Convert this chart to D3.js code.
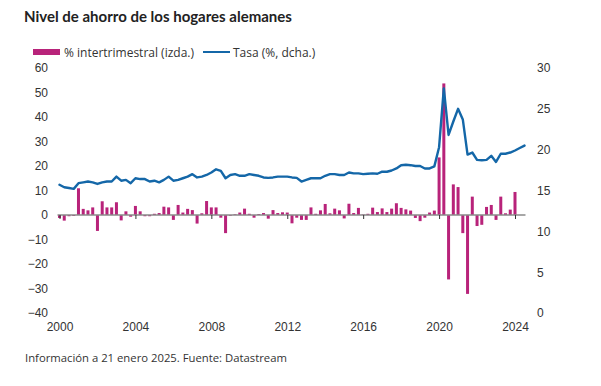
<!DOCTYPE html>
<html>
<head>
<meta charset="utf-8">
<script src="https://cdn.jsdelivr.net/npm/d3@7"></script>
<style>
  html, body { margin: 0; padding: 0; background: #fff; }
  svg { display: block; font-family: "Open Sans", "Noto Sans", sans-serif; }
</style>
</head>
<body>
<svg id="chart" width="601" height="386"></svg>
<script>
// ---- Data (quarterly, starting 2000 Q1) ----
const startYear = 2000;
const barValues = [
  -1.2, -2.3, -0.5, -0.4, 10.9, 2.5, 1.9, 3.1, -6.5, 5.6,
  3.1, 3.1, 5.2, -2.2, 1.5, -0.7, 3.7, 1.5, -0.5, -0.5,
  0.5, 0.8, 3.4, 3.1, -2.0, 4.1, 1.0, 2.5, 2.0, -3.5,
  0.7, 5.7, 3.1, 3.1, -1.1, -7.4, -0.3, 0.3, 1.0, 2.6,
  0.5, -1.1, 0.4, 0.8, -1.5, 2.0, 0.8, 1.1, 1.0, -3.4,
  -1.1, -2.0, -2.0, 3.1, 0.5, 1.9, 4.5, 0.7, 2.6, 1.9,
  -1.4, 4.6, 0.8, 2.9, 0.2, 0.5, 3.0, 1.2, 2.7, 1.2,
  2.6, 4.8, 2.9, 2.3, 1.8, -1.2, -2.5, -1.1, 1.0, 1.8,
  23.5, 53.7, -26.3, 12.5, 11.4, -7.4, -32.2, 7.5, -4.5, -4.0,
  3.3, 4.1, -2.0, 7.5, 0.7, 2.2, 9.4
];
const rateValues = [
  15.7, 15.4, 15.3, 15.2, 15.9, 16.0, 16.1, 16.0, 15.8, 16.0,
  16.1, 16.1, 16.7, 16.2, 16.3, 15.9, 16.5, 16.4, 16.4, 16.1,
  16.2, 16.0, 16.3, 16.7, 16.2, 16.3, 16.5, 16.7, 17.0, 16.6,
  16.7, 16.9, 17.2, 17.6, 17.4, 16.5, 16.9, 17.0, 16.8, 16.8,
  17.0, 16.9, 16.8, 16.6, 16.55, 16.6, 16.7, 16.7, 16.7, 16.6,
  16.55, 16.1, 16.3, 16.5, 16.5, 16.5, 16.8, 17.0, 17.0, 16.9,
  16.9, 17.2, 17.1, 17.1, 17.0, 17.05, 17.1, 17.05, 17.3, 17.3,
  17.45, 17.7, 18.1, 18.15, 18.1, 18.0, 18.0, 17.7, 17.7, 17.95,
  20.3, 27.5, 21.8, 23.45, 25.0, 23.7, 19.4, 19.65, 18.75, 18.7,
  18.75, 19.25, 18.5, 19.5, 19.5, 19.65, 19.9, 20.2, 20.5
];
const leftTicks = [60, 50, 40, 30, 20, 10, 0, -10, -20, -30, -40];
const rightTicks = [30, 25, 20, 15, 10, 5, 0];
const yearTicks = [2000, 2004, 2008, 2012, 2016, 2020, 2024];

const title = "Nivel de ahorro de los hogares alemanes";
const legendBars = "% intertrimestral (izda.)";
const legendLine = "Tasa (%, dcha.)";
const footer = "Información a 21 enero 2025. Fuente: Datastream";

const barColor = "#b8237a";
const lineColor = "#1467a8";
const textColor = "#333333";

const bars = barValues.map((v, i) => ({ t: startYear + i / 4, v }));
const rate = rateValues.map((v, i) => ({ t: startYear + i / 4, v }));

// ---- Scales ----
const x = d3.scaleLinear().domain([2000, 2024]).range([59.5, 515]);
const yL = d3.scaleLinear().domain([-40, 60]).range([313, 68]);
const yR = d3.scaleLinear().domain([0, 30]).range([313, 68]);

const svg = d3.select("#chart");

// Title
svg.append("text").attr("x", 24).attr("y", 22)
  .attr("font-size", 15).attr("font-weight", 700).attr("fill", "#222")
  .attr("font-family", "Lato, 'Open Sans', sans-serif")
  .text(title);

// Legend
svg.append("rect").attr("x", 33).attr("y", 49).attr("width", 27).attr("height", 6).attr("fill", barColor);
svg.append("text").attr("x", 64).attr("y", 56.5).attr("font-size", 12).attr("fill", textColor).text(legendBars);
svg.append("line").attr("x1", 203).attr("x2", 230).attr("y1", 52).attr("y2", 52)
  .attr("stroke", lineColor).attr("stroke-width", 2);
svg.append("text").attr("x", 233).attr("y", 56.5).attr("font-size", 12).attr("fill", textColor).text(legendLine);

// Left axis
const gL = svg.append("g").attr("transform", "translate(48,0)")
  .call(d3.axisLeft(yL).tickValues(leftTicks).tickSize(0).tickPadding(0));
gL.select(".domain").remove();
gL.selectAll("text").attr("font-size", 12).attr("fill", textColor).attr("font-family", null);

// Right axis
const gR = svg.append("g").attr("transform", "translate(537,0)")
  .call(d3.axisRight(yR).tickValues(rightTicks).tickSize(0).tickPadding(0));
gR.select(".domain").remove();
gR.selectAll("text").attr("font-size", 12).attr("fill", textColor).attr("font-family", null);

// Bars
const bw = 3;
svg.append("g").selectAll("rect").data(bars).join("rect")
  .attr("x", d => x(d.t) - bw / 2)
  .attr("width", bw)
  .attr("y", d => yL(Math.max(0, d.v)))
  .attr("height", d => Math.abs(yL(d.v) - yL(0)))
  .attr("fill", barColor);

// Zero line
svg.append("line")
  .attr("x1", x(rate[0].t) - 2).attr("x2", x(rate[rate.length - 1].t) + 1)
  .attr("y1", yL(0)).attr("y2", yL(0))
  .attr("stroke", "#8a8a8a").attr("stroke-width", 1.5);

// Tick marks on zero line
const gT = svg.append("g").attr("transform", `translate(0,${yL(0)})`)
  .call(d3.axisBottom(x).tickValues(yearTicks).tickSize(4).tickFormat(""));
gT.select(".domain").remove();
gT.selectAll("line").attr("stroke", "#333");

// Year labels
const gX = svg.append("g").attr("transform", "translate(0,322)")
  .call(d3.axisBottom(x).tickValues(yearTicks).tickSize(0).tickPadding(0).tickFormat(d3.format("d")));
gX.select(".domain").remove();
gX.selectAll("text").attr("font-size", 12).attr("fill", textColor).attr("font-family", null);

// Line
svg.append("path").datum(rate)
  .attr("fill", "none").attr("stroke", lineColor).attr("stroke-width", 2.4)
  .attr("stroke-linejoin", "round").attr("stroke-linecap", "round")
  .attr("d", d3.line().x(d => x(d.t)).y(d => yR(d.v)));

// Footer
svg.append("text").attr("x", 25).attr("y", 362).attr("font-size", 11.3).attr("fill", textColor).text(footer);
</script>
</body>
</html>
